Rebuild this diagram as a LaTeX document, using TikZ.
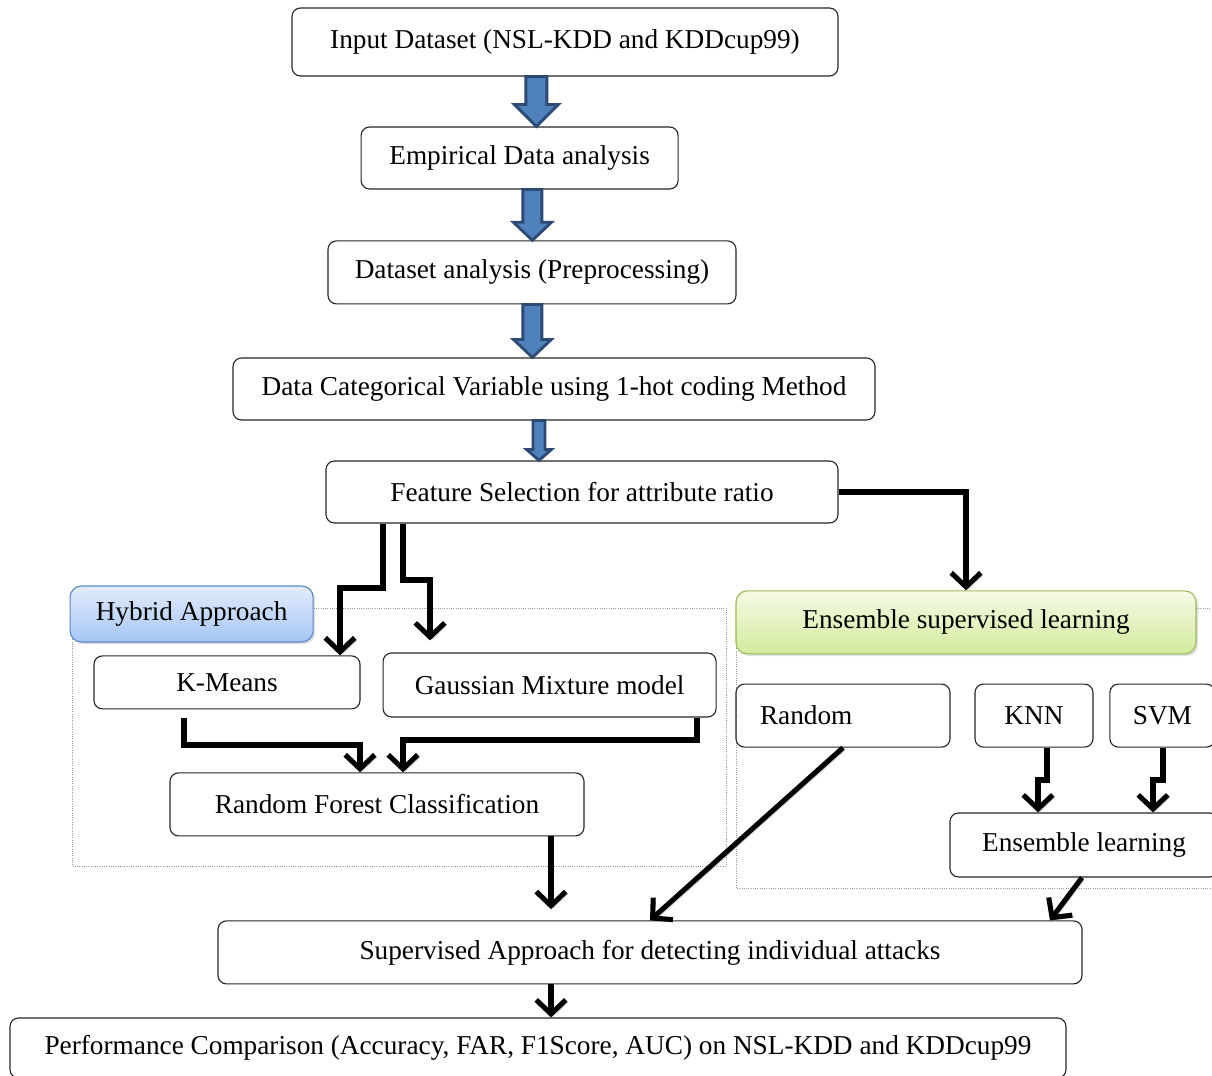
\documentclass[tikz,border=0pt]{standalone}
\usepackage{fontspec}
\setmainfont{Liberation Serif}
\usetikzlibrary{calc,arrows.meta,shadows}

\newcommand{\fsz}{\fontsize{19.4}{23}\selectfont}
\definecolor{arrfill}{HTML}{4F81BD}
\definecolor{arrline}{HTML}{2C4A74}
\definecolor{hybline}{HTML}{5A88C8}
\definecolor{hybtop}{HTML}{E2ECFC}
\definecolor{hybbot}{HTML}{A6C6F6}
\definecolor{ensline}{HTML}{9BBB59}
\definecolor{enstop}{HTML}{F5FAE6}
\definecolor{ensbot}{HTML}{D3EB9B}

\tikzset{
  box/.style={draw=black!85, rounded corners=6pt, line width=0.8pt, font=\fsz, inner sep=0pt},
  flow/.style={line width=3.6pt, -{Straight Barb[length=10pt,width=21pt]},
    preaction={draw=black!25, transform canvas={shift={(1.6pt,-1.6pt)}}}},
  dotbox/.style={draw=black!40, densely dotted, line width=0.6pt},
  bluearr/.style={draw=arrline, fill=arrfill, line width=2pt, line join=miter}
}

% x, from node, to node, half shaft, half head, head length
\newcommand{\bluearrow}[6]{%
  \draw[bluearr] (#1-#4,0 |- #2.south) -- ($(#1-#4,0 |- #3.north)+(0,-#6)$)
    -- ($(#1-#5,0 |- #3.north)+(0,-#6)$) -- (#1,0 |- #3.north)
    -- ($(#1+#5,0 |- #3.north)+(0,-#6)$) -- ($(#1+#4,0 |- #3.north)+(0,-#6)$)
    -- (#1+#4,0 |- #2.south) -- cycle;}

\begin{document}
\begin{tikzpicture}[x=1cm,y=-1cm]
  \useasboundingbox[fill=white] (0,0) rectangle (30.3,26.9);

  % dotted frames
  \draw[dotbox] (1.8,15.2) rectangle (18.15,21.65);
  \draw[dotbox] (18.4,15.2) rectangle (30.6,22.2);

  % main column
  \node[box, minimum width=13.65cm, minimum height=1.7cm] (inp) at (14.125,1.05) {Input Dataset (NSL-KDD and KDDcup99)};
  \node[box, minimum width=7.925cm, minimum height=1.55cm] (eda) at (12.99,3.95) {Empirical Data analysis};
  \node[box, minimum width=10.2cm, minimum height=1.575cm] (pre) at (13.3,6.81) {Dataset analysis (Preprocessing)};
  \node[box, minimum width=16.05cm, minimum height=1.55cm] (cat) at (13.85,9.725) {Data Categorical Variable using 1-hot coding Method};
  \node[box, minimum width=12.8cm, minimum height=1.55cm] (fs) at (14.55,12.3) {Feature Selection for attribute ratio};

  % hybrid part
  \node[box, draw=hybline, top color=hybtop, bottom color=hybbot, rounded corners=8pt,
    drop shadow={opacity=0.25, shadow xshift=1.5pt, shadow yshift=-1.5pt},
    minimum width=6.075cm, minimum height=1.4cm] (hyb) at (4.79,15.35) {Hybrid Approach};
  \node[box, minimum width=6.65cm, minimum height=1.325cm] (kmeans) at (5.675,17.06) {K-Means};
  \node[box, minimum width=8.325cm, minimum height=1.6cm] (gmm) at (13.74,17.125) {Gaussian Mixture model};
  \node[box, minimum width=10.35cm, minimum height=1.575cm] (rf) at (9.425,20.11) {Random Forest Classification};

  % ensemble part
  \node[box, draw=ensline, top color=enstop, bottom color=ensbot, rounded corners=8pt,
    drop shadow={opacity=0.25, shadow xshift=1.5pt, shadow yshift=-1.5pt},
    minimum width=11.5cm, minimum height=1.575cm] (ens) at (24.15,15.56) {Ensemble supervised learning};
  \node[box, minimum width=5.35cm, minimum height=1.575cm, text width=4.15cm, inner xsep=0.6cm, align=left] (rnd) at (21.075,17.89) {Random};
  \node[box, minimum width=2.95cm, minimum height=1.575cm] (knn) at (25.85,17.89) {KNN};
  \node[box, minimum width=2.625cm, minimum height=1.575cm] (svm) at (29.06,17.89) {SVM};
  \node[box, minimum width=6.7cm, minimum height=1.6cm] (ensl) at (27.1,21.125) {Ensemble learning};

  % bottom
  \node[box, minimum width=21.6cm, minimum height=1.575cm] (sup) at (16.25,23.81) {Supervised Approach for detecting individual attacks};
  \node[box, minimum width=26.4cm, minimum height=1.5cm] (perf) at (13.45,26.2) {Performance Comparison (Accuracy, FAR, F1Score, AUC) on NSL-KDD and KDDcup99};

  % block arrows
  \bluearrow{13.41}{inp}{eda}{0.2625}{0.55}{0.55}
  \bluearrow{13.31}{eda}{pre}{0.2375}{0.475}{0.45}
  \bluearrow{13.31}{pre}{cat}{0.2375}{0.475}{0.45}
  \bluearrow{13.475}{cat}{fs}{0.15}{0.3125}{0.275}

  % thick arrows
  \draw[flow] (fs.east) -- (ens.north |- fs.east) -- (ens.north);
  \draw[flow] (9.575,0 |- fs.south) -- (9.575,14.7) -- (8.5,14.7) -- (8.5,0 |- kmeans.north);
  \draw[flow] (10.075,0 |- fs.south) -- (10.075,14.5) -- (10.75,14.5) -- ([yshift=0.3cm]10.75,0 |- gmm.north);
  \draw[flow] ([yshift=-0.22cm]4.6,0 |- kmeans.south) -- (4.6,18.625) -- (9.0,18.625) -- (9.0,0 |- rf.north);
  \draw[flow] (17.425,0 |- gmm.south) -- (17.425,18.5) -- (10.075,18.5) -- (10.075,0 |- rf.north);
  \draw[flow] (13.775,0 |- rf.south) -- ([yshift=0.28cm]13.775,0 |- sup.north);
  \draw[flow] (rnd.south) -- (sup.north);
  \draw[flow] (26.175,0 |- knn.south) -- (26.175,19.5) -- (25.95,19.5) -- (25.95,0 |- ensl.north);
  \draw[flow] (29.075,0 |- svm.south) -- (29.075,19.5) -- (28.825,19.5) -- (28.825,0 |- ensl.north);
  \draw[flow] (27.05,0 |- ensl.south) -- (26.25,0 |- sup.north);
  \draw[flow] (13.775,0 |- sup.south) -- (13.775,0 |- perf.north);
\end{tikzpicture}
\end{document}
